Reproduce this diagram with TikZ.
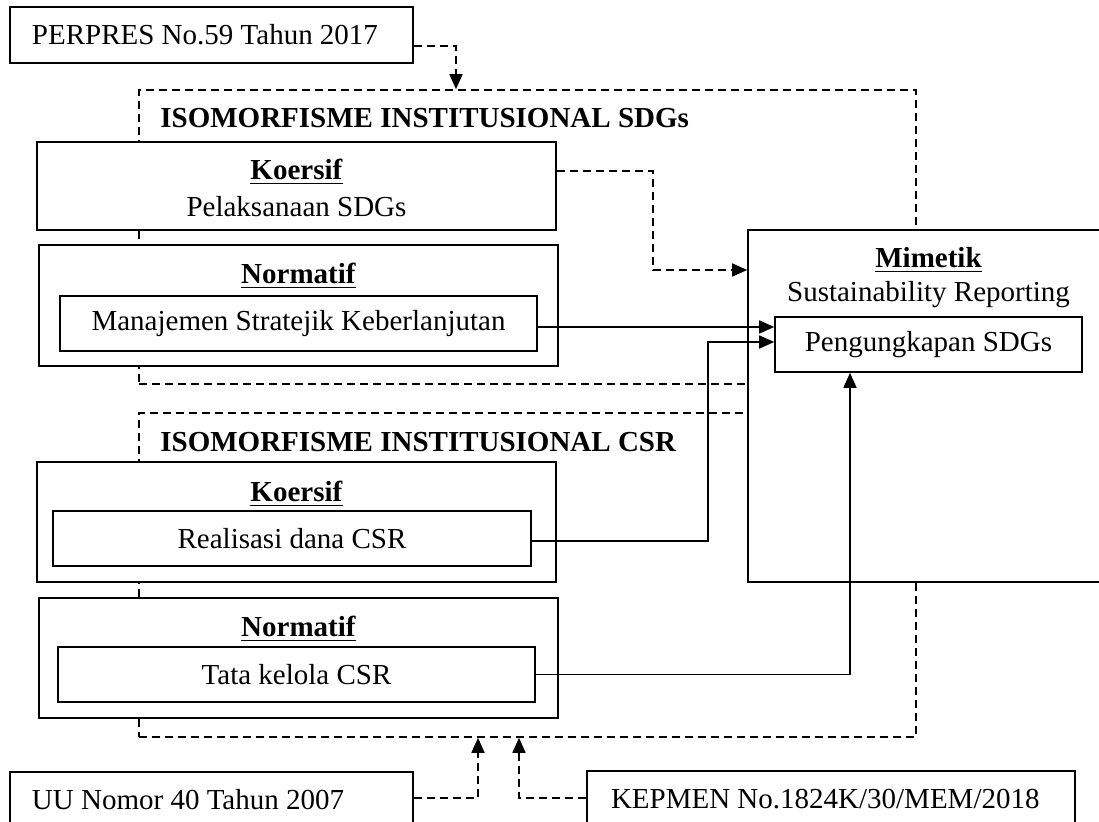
\documentclass[tikz,border=0pt]{standalone}
\usepackage{fontspec}
\setmainfont{Liberation Serif}
\usetikzlibrary{arrows.meta}

\tikzset{
  box/.style={draw, fill=white, line width=0.8pt, inner sep=0pt},
  lbox/.style={box, align=flush left, inner xsep=11pt},
  frame/.style={draw, line width=0.8pt, dash pattern=on 4pt off 2.5pt, inner sep=0pt},
  arrow/.style={line width=0.8pt, -{Triangle[length=7.5pt,width=6.5pt]}},
  dasharrow/.style={arrow, dash pattern=on 4pt off 2.5pt}
}
\newcommand{\ulhead}[1]{\underline{\textbf{#1}}}

\begin{document}
\begin{tikzpicture}[x=0.5pt,y=-0.5pt,font=\fontsize{14.5pt}{17pt}\selectfont]

% Page frame, coordinates are pixels
\useasboundingbox (0,0) rectangle (1099,822);
\clip (0,0) rectangle (1099,822);

% Dashed frames
\node[frame, minimum width=388.5pt, minimum height=147pt] (sdgframe) at (527.5,237) {};
\node[frame, minimum width=388.5pt, minimum height=162pt] (csrframe) at (527.5,575) {};

% Titles
\node[anchor=base west, inner sep=0pt] (sdgtitle) at (160,128)
{\textbf{ISOMORFISME INSTITUSIONAL SDGs}};
\node[anchor=base west, inner sep=0pt] (csrtitle) at (160,452)
{\textbf{ISOMORFISME INSTITUSIONAL CSR}};

% PERPRES
\node[lbox, text width=179.5pt, minimum height=28pt] (perpres) at (211.5,35)
{PERPRES No.59 Tahun 2017};

% Koersif SDGs
\node[box, minimum width=259.5pt, minimum height=44pt] (koersifsdg) at (296.5,186) {};
\node[anchor=base] (koersifsdgT) at (296.5,180) {\ulhead{Koersif}};
\node[anchor=base] (pelaksanaan) at (296.5,216.5) {Pelaksanaan SDGs};

% Normatif SDGs
\node[box, minimum width=259.5pt, minimum height=60.5pt] (normatifsdg) at (298.5,305.5) {};
\node[anchor=base] (normatifsdgT) at (298.5,284) {\ulhead{Normatif}};
\node[box, minimum width=238.5pt, minimum height=27.5pt] (manajemen) at (298.5,323.5)
{Manajemen Stratejik Keberlanjutan};

% Mimetik
\node[box, minimum width=180.5pt, minimum height=176pt] (mimetik) at (928.5,406) {};
\node[anchor=base] (mimetikT) at (928.5,268) {\ulhead{Mimetik}};
\node[anchor=base] (reporting) at (928.5,302) {Sustainability Reporting};
\node[box, minimum width=153.5pt, minimum height=27.5pt] (pengungkapan) at (928.5,344.5)
{Pengungkapan SDGs};

% Koersif CSR
\node[box, minimum width=259.5pt, minimum height=60pt] (koersifcsr) at (296.5,522) {};
\node[anchor=base] (koersifcsrT) at (296.5,502) {\ulhead{Koersif}};
\node[box, minimum width=239pt, minimum height=27.5pt] (realisasi) at (292,538.5)
{Realisasi dana CSR};

% Normatif CSR
\node[box, minimum width=259.5pt, minimum height=60pt] (normatifcsr) at (298.5,658) {};
\node[anchor=base] (normatifcsrT) at (298.5,637) {\ulhead{Normatif}};
\node[box, minimum width=238.5pt, minimum height=27.5pt] (tatakelola) at (296.5,674.5)
{Tata kelola CSR};

% Regulations below
\node[lbox, text width=179.5pt, minimum height=28pt] (uu) at (211.5,800)
{UU Nomor 40 Tahun 2007};
\node[lbox, inner xsep=12pt, text width=220pt, minimum height=28pt] (kepmen) at (831,799)
{KEPMEN No.1824K/30/MEM/2018};

% Dashed arrows
\draw[dasharrow] ([yshift=-5.5pt]perpres.east) -| ([xshift=-35.75pt]sdgframe.north);
\draw[dasharrow] ([yshift=7.5pt]koersifsdg.east) -- ++(48pt,0) |- ([yshift=68pt]mimetik.west);
\draw[dasharrow] ([yshift=1pt]uu.east) -| ([xshift=-24.75pt]csrframe.south);
\draw[dasharrow] ([yshift=0.5pt]kepmen.west) -| ([xshift=-4.25pt]csrframe.south);

% Solid arrows
\draw[arrow] ([yshift=-1.75pt]manajemen.east) -- ([yshift=8.75pt]pengungkapan.west);
\draw[arrow] ([yshift=-1.25pt]realisasi.east) -- ++(88pt,0) |- ([yshift=1.25pt]pengungkapan.west);
\draw[arrow] (tatakelola.east) -| ([xshift=-39.25pt]pengungkapan.south);

\end{tikzpicture}
\end{document}
